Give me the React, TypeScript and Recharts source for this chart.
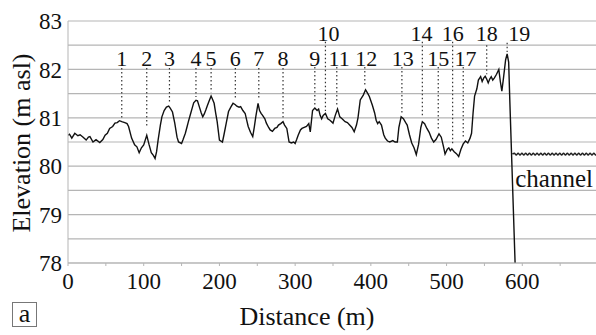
import React from "react";
import {
  LineChart,
  Line,
  XAxis,
  YAxis,
  CartesianGrid,
  ReferenceLine,
  ReferenceDot,
} from "recharts";

const serif = '"Liberation Serif", "Times New Roman", serif';

// ground profile along the transect
const profileDist = [
  0, 2, 5, 9, 13, 16, 20, 24, 27, 29,
  33, 37, 42, 46, 49, 52, 55, 59, 62, 65,
  68, 71, 75, 78, 80, 84, 88, 91, 94, 97,
  100, 104, 107, 110, 113, 115, 117, 119, 122, 124,
  127, 130, 133, 135, 138, 141, 144, 146, 150, 152,
  155, 157, 159, 162, 164, 166, 169, 171, 174, 176,
  178, 180, 182, 184, 186, 189, 191, 193, 195, 197,
  200, 204, 206, 209, 212, 215, 218, 221, 223, 226,
  228, 231, 234, 236, 238, 241, 244, 246, 248, 251,
  253, 255, 257, 260, 262, 265, 267, 270, 273, 276,
  278, 281, 284, 286, 289, 292, 295, 298, 300, 302,
  304, 307, 309, 312, 315, 318, 320, 323, 326, 329,
  331, 333, 335, 337, 340, 343, 346, 350, 353, 356,
  359, 362, 366, 369, 372, 375, 378, 381, 383, 386,
  390, 393, 396, 398, 402, 405, 407, 409, 411, 414,
  417, 419, 422, 425, 429, 432, 435, 437, 440, 443,
  446, 448, 451, 454, 457, 460, 463, 466, 468, 471,
  474, 477, 480, 483, 486, 490, 493, 496, 498, 501,
  503, 505, 507, 510, 513, 516, 519, 522, 525, 528,
  531, 533, 535, 537, 540, 542, 545, 547, 549, 551,
  553, 555, 557, 559, 561, 563, 566, 569, 571, 573,
  575, 578, 580, 582, 583.5, 590.5,
];
const profileElev = [
  80.64, 80.66, 80.58, 80.68, 80.63, 80.65, 80.6, 80.54, 80.6, 80.61,
  80.5, 80.55, 80.49, 80.55, 80.64, 80.68, 80.78, 80.82, 80.89, 80.9,
  80.94, 80.92, 80.9, 80.88, 80.82, 80.58, 80.44, 80.4, 80.28, 80.38,
  80.44, 80.64, 80.45, 80.28, 80.22, 80.16, 80.3, 80.54, 80.85, 81.02,
  81.15, 81.22, 81.24, 81.2, 81.12, 80.89, 80.6, 80.5, 80.47, 80.55,
  80.68, 80.8, 80.92, 81.09, 81.2, 81.31, 81.36, 81.35, 81.2, 81.1,
  81.02, 81.08, 81.16, 81.25, 81.33, 81.45, 81.38, 81.3, 81.1, 80.92,
  80.54, 80.5, 80.65, 80.89, 81.13, 81.22, 81.3, 81.27, 81.24, 81.22,
  81.23, 81.15, 81.09, 80.95, 80.82, 80.7, 80.61, 80.8, 81.02, 81.3,
  81.15, 81.09, 81.05, 80.98, 80.89, 80.8, 80.75, 80.72, 80.78, 80.8,
  80.85, 80.88, 80.92, 80.85, 80.78, 80.5, 80.48, 80.5, 80.47, 80.55,
  80.64, 80.75, 80.78, 80.8, 80.82, 80.88, 80.71, 81.15, 81.2, 81.15,
  81.18, 81.05, 80.98, 81.05, 81.09, 80.98, 80.95, 80.89, 81.05, 81.18,
  81.02, 80.98, 80.92, 80.9, 80.85, 80.8, 80.71, 80.85, 81.0, 81.37,
  81.47, 81.58, 81.5, 81.44, 81.26, 81.1, 80.95, 80.88, 80.92, 80.85,
  80.65, 80.58, 80.52, 80.5, 80.53, 80.5, 80.5, 80.8, 81.02, 80.98,
  80.9, 80.85, 80.65, 80.48, 80.38, 80.24, 80.45, 80.8, 80.92, 80.88,
  80.78, 80.7, 80.58, 80.5, 80.55, 80.67, 80.6, 80.4, 80.25, 80.35,
  80.38, 80.32, 80.36, 80.3, 80.26, 80.2, 80.35, 80.46, 80.52, 80.48,
  80.58, 80.68, 81.1, 81.45, 81.6, 81.78, 81.85, 81.75, 81.82, 81.86,
  81.8, 81.72, 81.8, 81.85, 81.78, 81.82, 81.9, 82.0, 81.75, 81.55,
  81.8, 82.2, 82.32, 82.15, 81.37, 78.0,
];

// channel water surface
const channelDist = [
  587, 589.5, 592, 594.5, 597, 599.5, 602, 604.5, 607, 609.5, 612, 614.5, 617,
  619.5, 622, 624.5, 627, 629.5, 632, 634.5, 637, 639.5, 642, 644.5, 647,
  649.5, 652, 654.5, 657, 659.5, 662, 664.5, 667, 669.5, 672, 674.5, 677,
  679.5, 682, 684.5, 687, 689.5, 692, 694.5, 697, 699.5,
];
const channelElev = [
  80.25, 80.27, 80.23, 80.27, 80.23, 80.27, 80.23, 80.27, 80.23, 80.27, 80.23,
  80.27, 80.23, 80.27, 80.23, 80.27, 80.23, 80.27, 80.23, 80.27, 80.23, 80.27,
  80.23, 80.27, 80.23, 80.27, 80.23, 80.27, 80.23, 80.27, 80.23, 80.27, 80.23,
  80.27, 80.23, 80.27, 80.23, 80.27, 80.23, 80.27, 80.23, 80.27, 80.23, 80.27,
  80.23, 80.27,
];

// numbered sites
const siteIds = [
  "1", "2", "3", "4", "5", "6", "7", "8", "9", "10", "11", "12", "13", "14",
  "15", "16", "17", "18", "19",
];
const siteLineDist = [
  71, 104, 134, 169, 189, 221, 252, 284, 326, 340, 355, 392, 441, 468, 489,
  508, 522, 553, 580,
];
const siteLabelDist = [
  71, 104, 134, 169, 189, 221, 252, 284, 326, 344, 358, 394, 442, 467, 489,
  508, 525, 553, 596,
];
const siteLabelElev = [
  82.24, 82.24, 82.24, 82.24, 82.24, 82.24, 82.24, 82.24, 82.24, 82.74, 82.24,
  82.24, 82.24, 82.74, 82.24, 82.74, 82.24, 82.74, 82.74,
];
const siteLineTop = [
  82.03, 82.03, 82.03, 82.03, 82.03, 82.03, 82.03, 82.03, 82.05, 82.57, 82.05,
  82.05, 82.05, 82.57, 82.05, 82.57, 82.05, 82.5, 82.55,
];
const siteLineBottom = [
  81.0, 80.81, 81.3, 81.43, 81.53, 81.4, 81.37, 80.98, 81.26, 81.14, 81.26,
  81.64, 81.1, 81.0, 80.73, 80.45, 80.6, 81.9, 82.36,
];

const elevTicks = [78, 78.5, 79, 79.5, 80, 80.5, 81, 81.5, 82, 82.5, 83];
const distTicks = [
  0, 50, 100, 150, 200, 250, 300, 350, 400, 450, 500, 550, 600, 650, 700,
];

const profile = profileDist.map((d, i) => ({ d, e: profileElev[i] }));
const channel = channelDist.map((d, i) => ({ d, e: channelElev[i] }));

const gridColor = "#b5b5b5";

export default function App() {
  return (
    <div
      style={{
        position: "absolute",
        left: 0,
        top: 0,
        width: 596,
        height: 335,
        overflow: "hidden",
        background: "#fff",
        fontFamily: serif,
        color: "#111",
      }}
    >
      <LineChart
        width={598}
        height={335}
        margin={{ top: 21, right: 0, bottom: 0, left: 0 }}
      >
        <CartesianGrid vertical={false} stroke={gridColor} strokeWidth={1.2} />
        <XAxis
          type="number"
          dataKey="d"
          domain={[0, 700]}
          ticks={distTicks}
          interval={0}
          allowDataOverflow
          height={72}
          tickSize={3}
          tickMargin={7}
          stroke={gridColor}
          tick={{ fill: "#111", fontSize: 23, fontFamily: serif }}
          tickFormatter={(v: number) => (v % 100 === 0 && v < 700 ? String(v) : "")}
        />
        <YAxis
          type="number"
          domain={[78, 83]}
          ticks={elevTicks}
          interval={0}
          allowDataOverflow
          width={68}
          tickLine={false}
          tickSize={0}
          tickMargin={6}
          stroke={gridColor}
          tick={{ fill: "#111", fontSize: 23, fontFamily: serif }}
          tickFormatter={(v: number) => (Number.isInteger(v) ? String(v) : "")}
        />
        {siteIds.map((id, i) => (
          <ReferenceLine
            key={"l" + id}
            segment={[
              { x: siteLineDist[i], y: siteLineTop[i] },
              { x: siteLineDist[i], y: siteLineBottom[i] },
            ]}
            stroke="#333"
            strokeWidth={1.2}
            strokeDasharray="1.5 2.5"
          />
        ))}
        <Line
          data={profile}
          dataKey="e"
          type="linear"
          stroke="#111"
          strokeWidth={1.4}
          dot={false}
          isAnimationActive={false}
        />
        <Line
          data={channel}
          dataKey="e"
          type="monotone"
          stroke="#222"
          strokeWidth={1.5}
          dot={false}
          isAnimationActive={false}
        />
        {siteIds.map((id, i) => (
          <ReferenceDot
            key={"t" + id}
            x={siteLabelDist[i]}
            y={siteLabelElev[i]}
            r={0}
            fill="none"
            stroke="none"
            label={{
              value: id,
              position: "center",
              fill: "#111",
              fontSize: 22,
              fontFamily: serif,
            }}
          />
        ))}
        <ReferenceDot
          x={588}
          y={79.76}
          r={0}
          fill="none"
          stroke="none"
          label={{
            value: "channel",
            position: "right",
            offset: 2,
            fill: "#111",
            fontSize: 25,
            fontFamily: serif,
          }}
        />
      </LineChart>
      <div
        style={{
          position: "absolute",
          left: 22,
          top: 143,
          transform: "translate(-50%, -50%) rotate(-90deg)",
          whiteSpace: "nowrap",
          fontSize: 26,
          lineHeight: "26px",
        }}
      >
        Elevation (m asl)
      </div>
      <div
        style={{
          position: "absolute",
          left: 307,
          top: 304,
          transform: "translateX(-50%)",
          whiteSpace: "nowrap",
          fontSize: 26,
          lineHeight: "26px",
        }}
      >
        Distance (m)
      </div>
      <div
        style={{
          position: "absolute",
          left: 12,
          top: 302,
          width: 25,
          height: 25,
          boxSizing: "border-box",
          border: "1px solid #777",
          textAlign: "center",
          fontSize: 26,
          lineHeight: "22px",
        }}
      >
        a
      </div>
    </div>
  );
}
